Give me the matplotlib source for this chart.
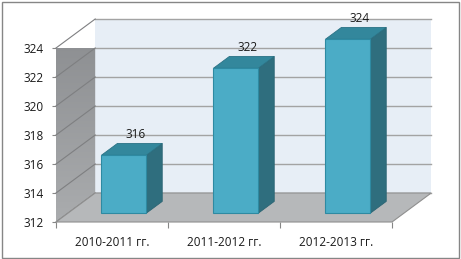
import matplotlib
matplotlib.use("Agg")
import matplotlib.pyplot as plt
import numpy as np
from matplotlib.patches import Polygon, Rectangle

categories = ["2010-2011 гг.", "2011-2012 гг.", "2012-2013 гг."]
values = [316, 322, 324]
y_ticks = [312, 314, 316, 318, 320, 322, 324]

plt.rcParams["font.family"] = ["Open Sans", "DejaVu Sans"]
plt.rcParams["font.size"] = 8.5

ymin, ymax = 312, 324
dx, dy = 0.35, 2.0        # depth of the 3d box in data units
bar_w = 0.4
f0, fd = 0.3, 0.41        # bar start / depth as fraction of box depth

fig = plt.figure(figsize=(4.61, 2.59), dpi=100)
ax = fig.add_axes([56 / 461, 37 / 259, 336 / 461, 174 / 259])
ax.patch.set_visible(False)
for s in ax.spines.values():
    s.set_visible(False)

x0, x1 = -0.5, len(categories) - 0.5


def poly(pts, fc, ec="none", lw=0.8, z=1):
    ax.add_patch(Polygon(pts, closed=True, fc=fc, ec=ec, lw=lw, zorder=z, clip_on=False))


# back wall
poly([(x0 + dx, ymin + dy), (x1 + dx, ymin + dy), (x1 + dx, ymax + dy), (x0 + dx, ymax + dy)],
     "#E7EEF6", z=1)
for v in y_ticks:
    ax.plot([x0 + dx, x1 + dx], [v + dy, v + dy], color="#A3A3A3", lw=1, zorder=2, clip_on=False)

# left wall with gradient
wall = Polygon([(x0, ymin), (x0, ymax), (x0 + dx, ymax + dy), (x0 + dx, ymin + dy)],
               closed=True, fc="none", ec="none", transform=ax.transData)
grad = np.linspace(0, 1, 100).reshape(-1, 1)
c_bot = np.array([0xAA, 0xAC, 0xAE]) / 255
c_top = np.array([0x8A, 0x8C, 0x8F]) / 255
img = c_bot + (c_top - c_bot) * grad[..., None]
im = ax.imshow(img, extent=[x0, x0 + dx, ymin, ymax + dy], origin="lower",
               aspect="auto", zorder=3, clip_on=True)
im.set_clip_path(wall)
for v in y_ticks:
    ax.plot([x0, x0 + dx], [v, v + dy], color="#7E7F81", lw=0.8, zorder=4, clip_on=False)

# floor
poly([(x0, ymin), (x1, ymin), (x1 + dx, ymin + dy), (x0 + dx, ymin + dy)],
     "#B6B8BA", ec="#8F8F8F", lw=0.8, z=5)

# bars
for i, v in enumerate(values):
    bx0 = i - bar_w / 2 + f0 * dx
    bx1 = bx0 + bar_w
    by0 = ymin + f0 * dy
    by1 = v + f0 * dy
    ddx, ddy = fd * dx, fd * dy
    poly([(bx1, by0), (bx1 + ddx, by0 + ddy), (bx1 + ddx, by1 + ddy), (bx1, by1)],
         "#2F6E7E", ec="#2A6473", lw=0.6, z=6)
    poly([(bx0, by1), (bx1, by1), (bx1 + ddx, by1 + ddy), (bx0 + ddx, by1 + ddy)],
         "#33879C", ec="#2A7285", lw=0.6, z=6)
    poly([(bx0, by0), (bx1, by0), (bx1, by1), (bx0, by1)],
         "#4BACC6", ec="#2E8AA2", lw=0.8, z=7)
    ax.annotate(str(v), (i + f0 * dx + ddx / 2, by1 + ddy), xytext=(2.5, 1.5),
                textcoords="offset points", ha="center", va="bottom",
                color="#1A1A1A", zorder=8, annotation_clip=False)

ax.set_xlim(x0, x1)
ax.set_ylim(ymin, ymax)

ax.set_yticks(y_ticks)
ax.tick_params(axis="y", length=3, width=0.8, color="#868686", pad=6, labelcolor="#1A1A1A")
ax.set_xticks([x0 + k for k in range(len(categories) + 1)])
ax.set_xticklabels([])
ax.tick_params(axis="x", which="major", length=4, width=0.8, color="#868686")
ax.set_xticks(range(len(categories)), minor=True)
ax.set_xticklabels(categories, minor=True)
ax.tick_params(axis="x", which="minor", length=0, pad=10, labelcolor="#1A1A1A")

fig.add_artist(Rectangle((1.5 / 461, 1.5 / 259), 457.5 / 461, 255.5 / 259,
                         transform=fig.transFigure, fill=False, ec="#868686", lw=1))

fig.savefig("out.png", dpi=100)
